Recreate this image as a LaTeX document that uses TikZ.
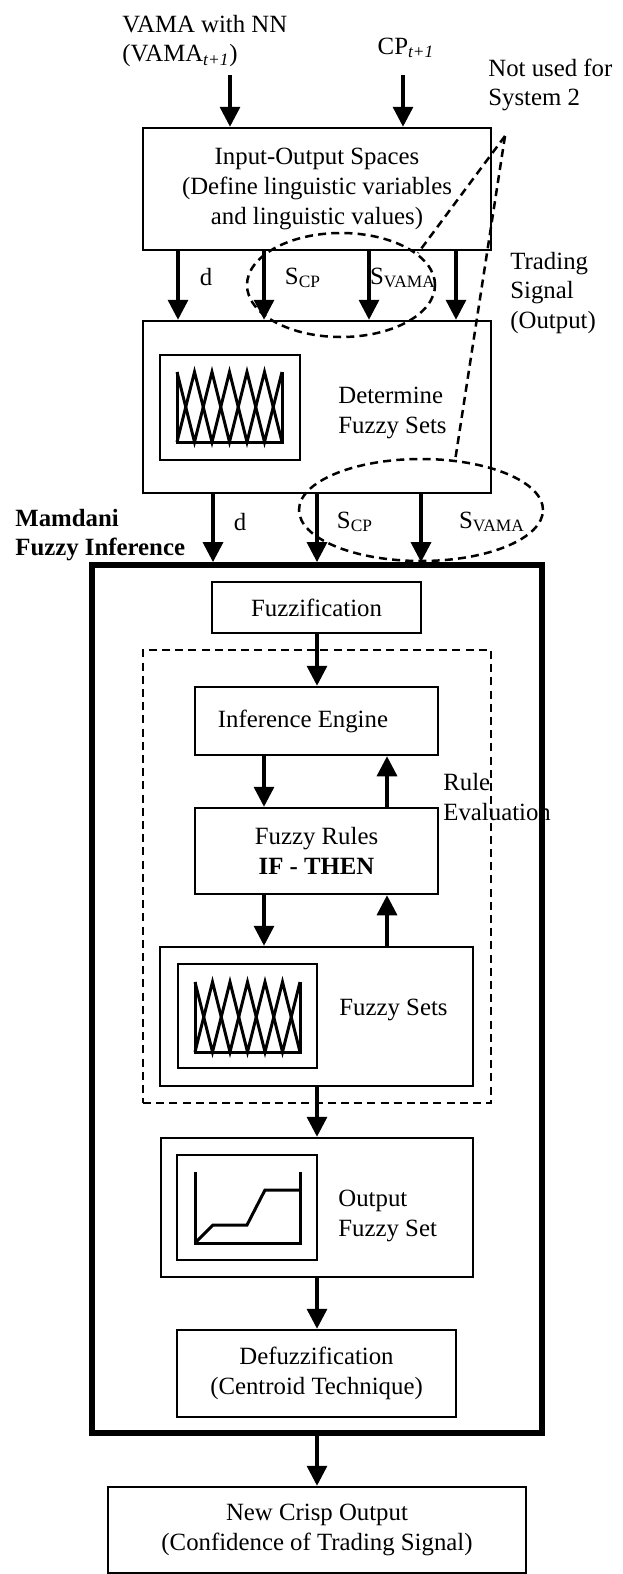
\documentclass[tikz,border=0pt]{standalone}
\usepackage{fontspec}
\setmainfont{Liberation Serif}
\usetikzlibrary{arrows.meta}
\begin{document}
\begin{tikzpicture}[x=0.5pt,y=-0.5pt,
  every node/.style={font=\fontsize{12.4}{14.8}\selectfont, inner sep=0pt},
  box/.style={draw, line width=1.25pt, align=center},
  bigbox/.style={draw, line width=2.9pt},
  dbox/.style={draw, line width=1.25pt, dash pattern=on 4pt off 2.6pt},
  dline/.style={line width=1.25pt, dash pattern=on 4pt off 2.6pt},
  arr/.style={line width=1.7pt, -{Triangle[width=10pt,length=10pt]}},
  pat/.style={line width=1.5pt},
  lbl/.style={align=left},
  fuzzyicon/.pic={
    \draw[pat] (0,0) -- (0,70) -- (105,70) -- (105,0);
    \draw[pat] (0,70) -- (17.5,0) -- (35,70) -- (52.5,0) -- (70,70) -- (87.5,0) -- (105,70);
    \draw[pat] (0,0) -- (17.5,70) -- (35,0) -- (52.5,70) -- (70,0) -- (87.5,70) -- (105,0);
  }]
\useasboundingbox (0,0) rectangle (622,1574);

% column coordinates
\coordinate (ca) at (230,75);
\coordinate (cb) at (403,75);
\coordinate (c1) at (178,0);
\coordinate (c2) at (264,0);
\coordinate (c3) at (369,0);
\coordinate (c4) at (456,0);
\coordinate (k1) at (213,0);
\coordinate (k2) at (317,0);
\coordinate (k3) at (421,0);
\coordinate (cl) at (264,0);
\coordinate (cr) at (387,0);

% inputs
\node[lbl, anchor=west] (vama) at (122,41) {VAMA with NN\\(VAMA\textsubscript{\textit{t+1}})};
\node (cp) at (406,48) {CP\textsubscript{\textit{t+1}}};
\node[lbl, anchor=west] (notused) at (488,85) {Not used for\\System 2};
\node[lbl, anchor=west] (trading) at (510,293) {Trading\\Signal\\(Output)};
\node[lbl, anchor=west, font=\fontsize{12.4}{14.8}\selectfont\bfseries] (mamdani) at (15,535) {Mamdani\\Fuzzy Inference};

% boxes
\node[box, minimum width=174pt, minimum height=61pt] (io) at (317,189)
  {Input-Output Spaces\\(Define linguistic variables\\and linguistic values)};
\node[box, minimum width=174pt, minimum height=86pt] (det) at (317,407) {};
\node[box, minimum width=70pt, minimum height=52.5pt] (deti) at (230,407.5) {};
\pic at (177,372) {fuzzyicon};
\node[lbl, anchor=west] (dett) at (338,413) {Determine\\Fuzzy Sets};

\node[bigbox, minimum width=225pt, minimum height=434pt] (big) at (317,999) {};
\node[dbox, minimum width=174pt, minimum height=226.5pt] (dash) at (317,876.5) {};

\node[box, minimum width=104.5pt, minimum height=25.5pt] (fuzzif) at (316.5,607.5) {Fuzzification};
\node[box, minimum width=121.5pt, minimum height=34pt] (infer) at (316.5,721) {};
\node (infert) at (303,721) {Inference Engine};
\node[box, minimum width=121.5pt, minimum height=43pt] (rules) at (316.5,851)
  {Fuzzy Rules\\\textbf{IF - THEN}};
\node[box, minimum width=156.5pt, minimum height=69.5pt] (fsets) at (316.5,1016.5) {};
\node[box, minimum width=69.5pt, minimum height=52pt] (fsetsi) at (247.5,1016) {};
\pic at (195,982) {fuzzyicon};
\node[lbl, anchor=west] (fsetst) at (339,1010) {Fuzzy Sets};
\node[lbl, anchor=west] (rule) at (443,797) {Rule\\Evaluation};

\node[box, minimum width=156pt, minimum height=69.5pt] (outs) at (317,1207.5) {};
\node[box, minimum width=70pt, minimum height=52.5pt] (outsi) at (247,1207.5) {};
\draw[pat] (195,1172) -- (195,1243) -- (300,1243) -- (300,1172);
\draw[pat] (195,1243) -- (213,1225) -- (247,1225) -- (265,1190) -- (300,1190);
\node[lbl, anchor=west] (outst) at (338,1216) {Output\\Fuzzy Set};

\node[box, minimum width=139.5pt, minimum height=43.5pt] (defuzz) at (316.5,1373.5)
  {Defuzzification\\(Centroid Technique)};
\node[box, minimum width=209pt, minimum height=43pt] (final) at (317,1530)
  {New Crisp Output\\(Confidence of Trading Signal)};

% arrows
\draw[arr] (ca) -- (io.north -| ca);
\draw[arr] (cb) -- (io.north -| cb);
\foreach \c in {c1,c2,c3,c4} \draw[arr] (io.south -| \c) -- (det.north -| \c);
\foreach \c in {k1,k2,k3} \draw[arr] (det.south -| \c) -- (big.north -| \c);
\draw[arr] (fuzzif.south -| k2) -- (infer.north -| k2);
\draw[arr] (infer.south -| cl) -- (rules.north -| cl);
\draw[arr] (rules.north -| cr) -- (infer.south -| cr);
\draw[arr] (rules.south -| cl) -- (fsets.north -| cl);
\draw[arr] (fsets.north -| cr) -- (rules.south -| cr);
\draw[arr] (fsets.south -| k2) -- (outs.north -| k2);
\draw[arr] (outs.south -| k2) -- (defuzz.north -| k2);
\draw[arr] (big.south -| k2) -- (final.north -| k2);

% signal labels
\node (d1) at (206,277) {d};
\node (scp1) at (303,278) {S\textsubscript{CP}};
\node (sv1) at (403,278) {S\textsubscript{VAMA}};
\node (d2) at (240,522) {d};
\node (scp2) at (355,522) {S\textsubscript{CP}};
\node (sv2) at (492,522) {S\textsubscript{VAMA}};

% dashed ellipses and leader lines
\draw[dline] (341,285) ellipse [x radius=47pt, y radius=26pt];
\draw[dline] (421,510) ellipse [x radius=61pt, y radius=25.5pt];
\coordinate (apex) at (505,136);
\coordinate (e1) at (418,253);
\coordinate (e2) at (455,461);
\draw[dline] (apex) -- (e1);
\draw[dline] (apex) -- (e2);
\end{tikzpicture}
\end{document}
